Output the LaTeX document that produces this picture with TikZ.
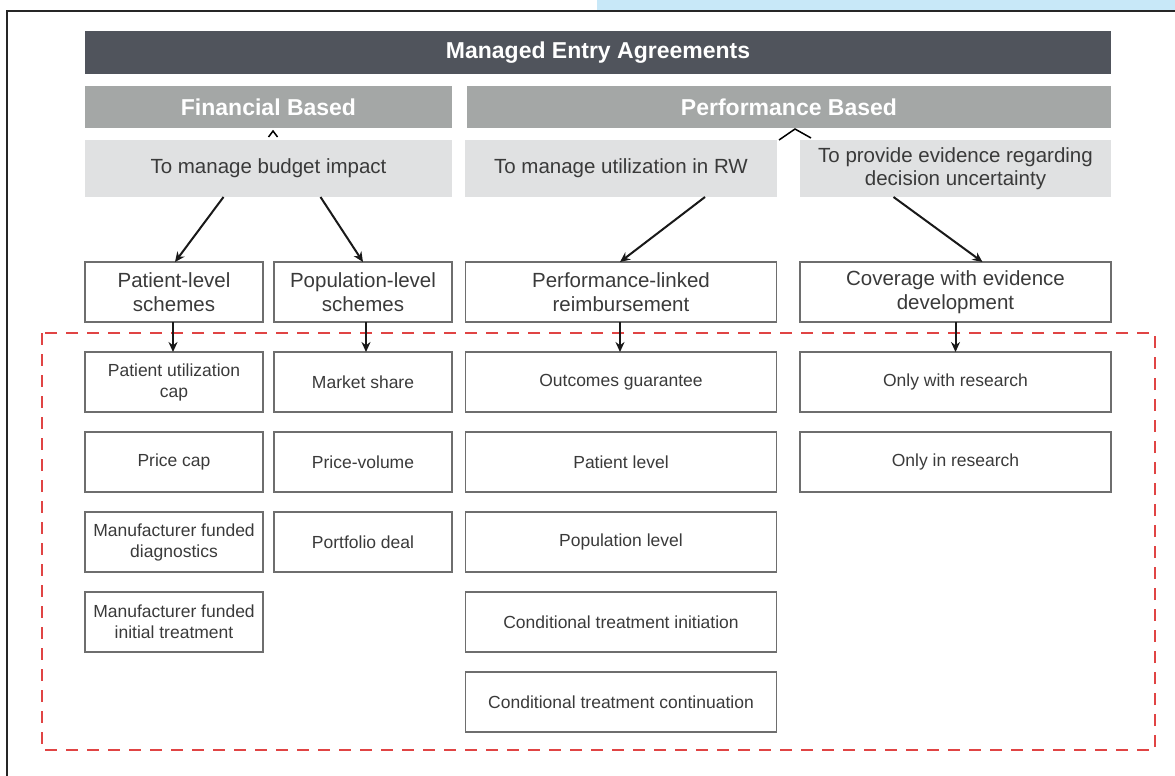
\documentclass[tikz,border=0pt]{standalone}
\usepackage{fontspec}
\setmainfont{Liberation Sans}
\usepackage{tikz}
\usetikzlibrary{positioning}
\usetikzlibrary{arrows.meta}

\definecolor{topgray}{HTML}{50545C}
\definecolor{midgray}{HTML}{A4A7A6}
\definecolor{lightgray}{HTML}{E0E1E2}
\definecolor{boxline}{HTML}{6E6E6E}
\definecolor{inktext}{HTML}{3A3A3A}
\definecolor{dashred}{HTML}{E04444}
\definecolor{skyband}{HTML}{C8E8F8}

\begin{document}
\begin{tikzpicture}[x=1pt,y=-1pt,node distance=20pt]
\tikzstyle{every node}=[outer sep=0pt, inner sep=2pt, align=center]
\tikzstyle{mea}=[fill=topgray, text=white, minimum width=1026pt, minimum height=43pt, font=\bfseries\fontsize{23}{27}\selectfont]
\tikzstyle{basis}=[fill=midgray, text=white, minimum height=42pt, font=\bfseries\fontsize{23}{27}\selectfont]
\tikzstyle{aim}=[fill=lightgray, text=inktext, minimum height=57pt, font=\fontsize{20.5}{23.5}\selectfont]
\tikzstyle{scheme}=[draw=boxline, line width=1.4pt, text=inktext, minimum height=60pt, font=\fontsize{20.5}{23.5}\selectfont]
\tikzstyle{item}=[draw=boxline, line width=1.4pt, text=inktext, minimum height=60pt, font=\fontsize{17.5}{21}\selectfont]
\tikzstyle{narrow}=[minimum width=178pt]
\tikzstyle{wide}=[minimum width=311pt]
\tikzstyle{arr}=[->, >={Stealth[length=10pt,width=9pt]}, line width=2pt, black!90]

\useasboundingbox (0,0) rectangle (1175,776);
\fill[skyband] (597,0) rectangle (1175,10);
\draw[line width=2.4pt, black!85] (7,776) -- (7,11) -- (1175,11);

\node[mea]	(MEA)	at (598,52.5)		{Managed Entry Agreements};
\node[basis, minimum width=367pt]	(FIN)	at (268.5,107)	{Financial Based};
\node[basis, minimum width=644pt]	(PERF)	at (789,107)	{Performance Based};
\node[aim, minimum width=367pt]	(BUDGET)	at (268.5,168.5)	{To manage budget impact};
\node[aim, minimum width=312pt]	(UTIL)	at (621,168.5)	{To manage utilization in RW};
\node[aim, minimum width=311pt]	(EVID)	at (955.5,168.5)	{To provide evidence regarding\\decision uncertainty};

% carets under the two bases
\draw[line width=1.5pt, black] ([xshift=0pt,yshift=-9pt]FIN.south) -- ([xshift=4.5pt,yshift=-3pt]FIN.south) -- ([xshift=9pt,yshift=-9pt]FIN.south);
\draw[line width=1.5pt, black] ([xshift=-10pt,yshift=-12pt]PERF.south) -- ([xshift=6pt,yshift=-1pt]PERF.south) -- ([xshift=22pt,yshift=-10pt]PERF.south);

% second row
\node[scheme, narrow]	(PLS)	at (174,292)	{Patient-level\\schemes};
\node[scheme, narrow]	(POPS)	at (363,292)	{Population-level\\schemes};
\node[scheme, wide]	(PLR)	at (621,292)	{Performance-linked\\reimbursement};
\node[scheme, wide]	(CED)	at (955.5,292)	{Coverage with evidence\\development};

% financial items
\node[item, narrow]	(PUC)	[below=30pt of PLS]	{Patient utilization\\cap};
\node[item, narrow]	(PC)	[below=of PUC]	{Price cap};
\node[item, narrow]	(MFD)	[below=of PC]	{Manufacturer funded\\diagnostics};
\node[item, narrow]	(MFT)	[below=of MFD]	{Manufacturer funded\\initial treatment};
\node[item, narrow]	(MS)	[below=30pt of POPS]	{Market share};
\node[item, narrow]	(PV)	[below=of MS]	{Price-volume};
\node[item, narrow]	(PD)	[below=of PV]	{Portfolio deal};

% performance items
\node[item, wide]	(OG)	[below=30pt of PLR]	{Outcomes guarantee};
\node[item, wide]	(PL)	[below=of OG]	{Patient level};
\node[item, wide]	(POPL)	[below=of PL]	{Population level};
\node[item, wide]	(CTI)	[below=of POPL]	{Conditional treatment initiation};
\node[item, wide]	(CTC)	[below=of CTI]	{Conditional treatment continuation};
\node[item, wide]	(OWR)	[below=30pt of CED]	{Only with research};
\node[item, wide]	(OIR)	[below=of OWR]	{Only in research};

\draw[dashred, dashed, dash pattern=on 12pt off 9pt, line width=1.8pt] (42,333) rectangle (1155,750);

\path[arr]	([xshift=-45pt]BUDGET.south)	edge	([xshift=1pt]PLS.north)
	([xshift=52pt]BUDGET.south)	edge	(POPS.north)
	([xshift=84pt]UTIL.south)	edge	([xshift=-1pt]PLR.north)
	([xshift=-62pt]EVID.south)	edge	([xshift=27pt]CED.north)
	([xshift=-1pt]PLS.south)	edge	([xshift=-1pt]PUC.north)
	([xshift=3pt]POPS.south)	edge	([xshift=3pt]MS.north)
	([xshift=-1pt]PLR.south)	edge	([xshift=-1pt]OG.north)
	(CED)	edge	(OWR);
\end{tikzpicture}
\end{document}
